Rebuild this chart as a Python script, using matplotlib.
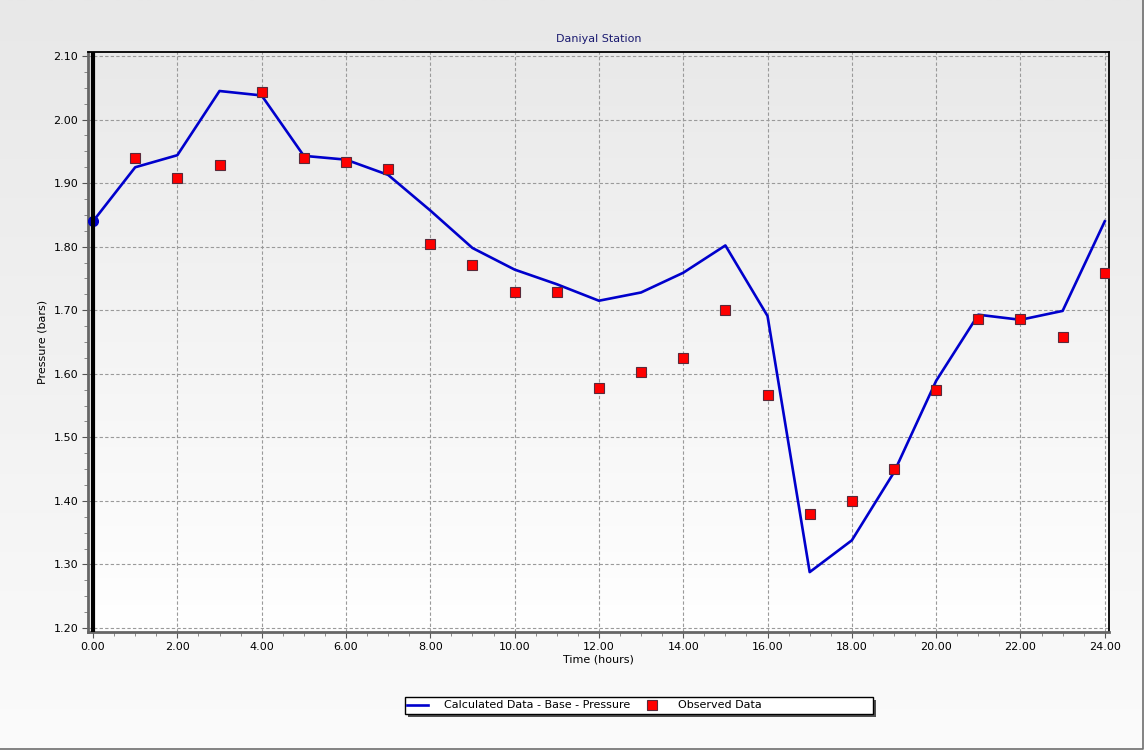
import matplotlib
matplotlib.use("Agg")
import matplotlib.pyplot as plt
import numpy as np
from matplotlib.patches import Rectangle
from matplotlib.lines import Line2D

hours = list(range(0, 25))
calculated = [1.840, 1.925, 1.944, 2.045, 2.038, 1.943, 1.937, 1.913, 1.857, 1.798,
              1.764, 1.741, 1.715, 1.728, 1.759, 1.802, 1.691, 1.288, 1.338, 1.445,
              1.589, 1.693, 1.685, 1.699, 1.840]
obs_hours = list(range(1, 25))
observed = [1.939, 1.908, 1.928, 2.043, 1.939, 1.933, 1.922, 1.804, 1.771, 1.729,
            1.728, 1.578, 1.603, 1.625, 1.700, 1.567, 1.380, 1.400, 1.451, 1.575,
            1.686, 1.687, 1.658, 1.758]
x_ticks = np.arange(0, 25, 2)
y_ticks = np.arange(1.2, 2.101, 0.1)

plt.rcParams['font.family'] = ['DejaVu Sans']
W, H = 1144, 750
fig = plt.figure(figsize=(W / 100, H / 100), dpi=100)

# figure background gradient
bg = fig.add_axes([0, 0, 1, 1], zorder=-10)
grad = np.linspace(0, 1, 256).reshape(-1, 1)
bg.imshow(grad, aspect='auto', cmap=matplotlib.colors.LinearSegmentedColormap.from_list(
    'bg', ['#e8e8e8', '#fbfbfb']), extent=[0, 1, 0, 1], origin='upper')
bg.set_xlim(0, 1)
bg.set_ylim(0, 1)
bg.set_axis_off()
bg.plot([0, 0.9993, 0.9993], [0.0013, 0.0013, 1], color='#6e6e6e', lw=1.2)

ax = fig.add_axes([0.0769, 0.1573, 0.8925, 0.7733])
ax.patch.set_alpha(0)
ax.imshow(grad, aspect='auto', cmap=matplotlib.colors.LinearSegmentedColormap.from_list(
    'ax', ['#e9e9e9', '#ffffff']), extent=[0, 1, 0, 1], origin='upper',
    transform=ax.transAxes, zorder=0)

ax.plot(hours, calculated, color='#0000cc', lw=1.9, zorder=3)
ax.plot(hours[0], calculated[0], 'o', color='#0000cc', ms=7, zorder=4)
ax.plot(obs_hours, observed, 's', color='#ff0000', mec='#5a2a3a', mew=0.8, ms=7,
        ls='none', zorder=5)
ax.axvline(0, color='black', lw=3, zorder=4)

ax.set_xlim(-0.12, 24.1)
ax.set_ylim(1.1937, 2.1063)
ax.set_xticks(x_ticks)
ax.set_xticklabels(['%.2f' % v for v in x_ticks])
ax.set_yticks(y_ticks)
ax.set_yticklabels(['%.2f' % v for v in y_ticks])
ax.set_xticks(np.arange(0, 24.01, 0.5), minor=True)
ax.set_yticks(np.arange(1.2, 2.1001, 0.025), minor=True)
ax.tick_params(labelsize=8, length=4, width=0.8, color='#555555', pad=3)
ax.tick_params(which='minor', length=3, width=0.6, color='#777777')
ax.grid(True, which='major', color='#9a9a9a', ls=(0, (3, 2)), lw=0.8, zorder=1)

for s in ['top', 'right']:
    ax.spines[s].set_color('black')
    ax.spines[s].set_linewidth(1.3)
for s in ['left', 'bottom']:
    ax.spines[s].set_color('#666666')
    ax.spines[s].set_linewidth(2)

ax.set_title('Daniyal Station', fontsize=8, color='#1a1a70', pad=7)
ax.set_xlabel('Time (hours)', fontsize=8, labelpad=2)
ax.set_ylabel('Pressure (bars)', fontsize=8, labelpad=4)

# legend box with shadow, drawn in pixel coords
x0, x1, y0, y1 = 405, 873, 697, 714
fig.patches.append(Rectangle(((x0 + 3) / W, 1 - (y1 + 3) / H), (x1 - x0) / W, (y1 - y0) / H,
                             transform=fig.transFigure, facecolor='#505050',
                             edgecolor='none', zorder=5))
fig.patches.append(Rectangle((x0 / W, 1 - y1 / H), (x1 - x0) / W, (y1 - y0) / H,
                             transform=fig.transFigure, facecolor='white',
                             edgecolor='black', lw=1, zorder=6))
handles = [Line2D([], [], color='#0000cc', lw=1.9),
           Line2D([], [], marker='s', color='#ff0000', mec='#5a2a3a', mew=0.8, ms=6.5, ls='none')]
labels = ['Calculated Data - Base - Pressure', 'Observed Data']
leg = fig.legend(handles, labels, loc='center left', bbox_to_anchor=(407 / W, 1 - 705.5 / H),
                 ncol=2, fontsize=8, frameon=False, handlelength=1.9,
                 handletextpad=1.4, columnspacing=1.0, borderpad=0, borderaxespad=0)
leg.set_zorder(7)

fig.savefig('out.png', dpi=100)
